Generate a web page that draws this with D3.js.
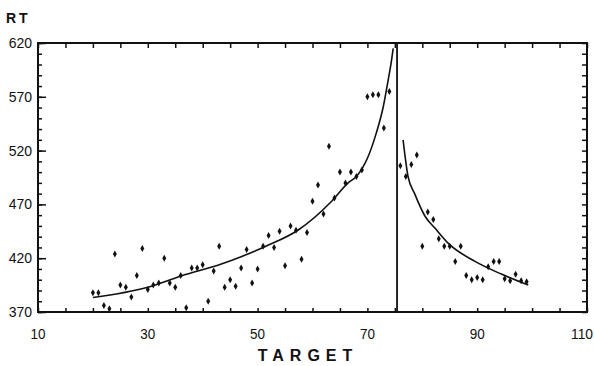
<!DOCTYPE html>
<html>
<head>
<meta charset="utf-8">
<script src="https://cdn.jsdelivr.net/npm/d3@7"></script>
<style>
  body { margin: 0; background: #fff; }
  svg text { font-family: 'Liberation Sans', Arial, sans-serif; fill: #111; }
</style>
</head>
<body>
<div id="chart"></div>
<script>
// observed trials: target position vs mean RT
const targets = [20, 21, 22, 23, 24, 25, 26, 27, 28, 29, 30, 31, 32, 33, 34, 35, 36, 37, 38, 39,
  40, 41, 42, 43, 44, 45, 46, 47, 48, 49, 50, 51, 52, 53, 54, 55, 56, 57, 58, 59,
  60, 61, 62, 63, 64, 65, 66, 67, 68, 69, 70, 71, 72, 73, 74,
  76, 77, 78, 79, 80, 81, 82, 83, 84, 85, 86, 87, 88, 89, 90, 91, 92, 93, 94, 95, 96, 97, 98, 99];
const rtValues = [388, 388, 376, 373, 424, 395, 393, 384, 404, 429, 391, 395, 397, 420, 397, 393, 404, 374, 411, 411,
  414, 380, 408, 431, 393, 400, 394, 411, 428, 397, 410, 431, 441, 430, 445, 413, 450, 446, 419, 444,
  473, 488, 461, 524, 476, 500, 490, 500, 496, 502, 570, 572, 572, 541, 575,
  506, 496, 507, 516, 431, 463, 456, 438, 431, 431, 417, 431, 404, 400, 402, 400, 412, 417, 417, 401, 399, 405, 399, 398];

// fitted curves
const leftCurveX = [20, 30, 36.1, 43.4, 47, 51.3, 57.4, 63.4, 66.5, 68, 70.1, 71.6, 72.9, 73.8, 74.4, 74.7];
const leftCurveY = [383.5, 393, 403.5, 414.6, 421.4, 430.7, 446.2, 472.5, 490, 496, 514, 536, 561, 586, 604, 615];
const rightCurveX = [76.5, 77.4, 78.6, 80.5, 82.3, 84.7, 89.6, 94.5, 99.3];
const rightCurveY = [530, 496, 480, 459, 448, 434, 417, 405, 395];

const dividerTarget = 75.4;

const xTickLabels = [10, 30, 50, 70, 90, 110];
const yTickLabels = [370, 420, 470, 520, 570, 620];

const width = 594;
const height = 366;

const x = d3.scaleLinear().domain([10, 110]).range([38, 587]);
const y = d3.scaleLinear().domain([370, 620]).range([312, 43]);

const svg = d3.select('#chart').append('svg')
  .attr('width', width)
  .attr('height', height);

// minor ticks
const xMinor = d3.range(10, 111, 5);
const yMinor = d3.range(370, 621, 10);

// bottom axis: ticks pointing up
svg.append('g')
  .attr('transform', `translate(0,${y(370)})`)
  .call(d3.axisBottom(x).tickValues(xMinor).tickSize(-4).tickFormat(''))
  .call((g) => g.select('.domain').remove());

// top axis: ticks pointing down
svg.append('g')
  .attr('transform', `translate(0,${y(620)})`)
  .call(d3.axisTop(x).tickValues(xMinor).tickSize(-5).tickFormat(''))
  .call((g) => g.select('.domain').remove());

// left axis: minor + major ticks inward
svg.append('g')
  .attr('transform', `translate(${x(10)},0)`)
  .call(d3.axisLeft(y).tickValues(yMinor).tickSize(-4).tickFormat(''))
  .call((g) => g.select('.domain').remove());
svg.append('g')
  .attr('transform', `translate(${x(10)},0)`)
  .call(d3.axisLeft(y).tickValues(yTickLabels).tickSize(-8).tickFormat(''))
  .call((g) => g.select('.domain').remove());

// right axis ticks inward
svg.append('g')
  .attr('transform', `translate(${x(110)},0)`)
  .call(d3.axisRight(y).tickValues(yMinor).tickSize(-5).tickFormat(''))
  .call((g) => g.select('.domain').remove());

svg.selectAll('.tick line').attr('stroke', '#111').attr('stroke-width', 1.5);

// frame
svg.append('rect')
  .attr('x', x(10))
  .attr('y', y(620))
  .attr('width', x(110) - x(10))
  .attr('height', y(370) - y(620))
  .attr('fill', 'none')
  .attr('stroke', '#111')
  .attr('stroke-width', 2);

// tick labels (last one kept inside the page edge)
svg.selectAll('.xlab')
  .data(xTickLabels)
  .enter().append('text')
  .attr('class', 'xlab')
  .attr('x', (d) => (d === 110 ? 593 : x(d)))
  .attr('y', 339)
  .attr('text-anchor', (d) => (d === 110 ? 'end' : 'middle'))
  .attr('font-size', '15px')
  .attr('textLength', 22)
  .attr('lengthAdjust', 'spacingAndGlyphs')
  .text((d) => d);

svg.selectAll('.xlab')
  .filter((d) => d < 100)
  .attr('textLength', 15);

svg.selectAll('.ylab')
  .data(yTickLabels)
  .enter().append('text')
  .attr('class', 'ylab')
  .attr('x', 32)
  .attr('y', (d) => y(d))
  .attr('dy', '0.36em')
  .attr('text-anchor', 'end')
  .attr('font-size', '14px')
  .text((d) => d);

// axis titles
svg.append('text')
  .attr('x', 6)
  .attr('y', 23)
  .attr('font-size', '14px')
  .attr('font-weight', 'bold')
  .attr('letter-spacing', '3px')
  .text('RT');

svg.append('text')
  .attr('x', 308)
  .attr('y', 361)
  .attr('text-anchor', 'middle')
  .attr('font-size', '16px')
  .attr('font-weight', 'bold')
  .attr('letter-spacing', '6px')
  .text('TARGET');

// divider
svg.append('line')
  .attr('x1', x(dividerTarget))
  .attr('x2', x(dividerTarget))
  .attr('y1', y(620))
  .attr('y2', y(370))
  .attr('stroke', '#111')
  .attr('stroke-width', 1.8);

// curves
const line = d3.line()
  .x((d) => x(d[0]))
  .y((d) => y(d[1]))
  .curve(d3.curveMonotoneX);

svg.append('path')
  .datum(leftCurveX.map((v, i) => [v, leftCurveY[i]]))
  .attr('d', line)
  .attr('fill', 'none')
  .attr('stroke', '#111')
  .attr('stroke-width', 1.6);

svg.append('path')
  .datum(rightCurveX.map((v, i) => [v, rightCurveY[i]]))
  .attr('d', line)
  .attr('fill', 'none')
  .attr('stroke', '#111')
  .attr('stroke-width', 1.6);

// points: small vertical diamonds
svg.selectAll('.pt')
  .data(targets.map((t, i) => ({ target: t, rt: rtValues[i] })))
  .enter().append('path')
  .attr('class', 'pt')
  .attr('transform', (d) => `translate(${x(d.target)},${y(d.rt)})`)
  .attr('d', 'M0,-3.5L2,0L0,3.5L-2,0Z')
  .attr('fill', '#111');
</script>
</body>
</html>
